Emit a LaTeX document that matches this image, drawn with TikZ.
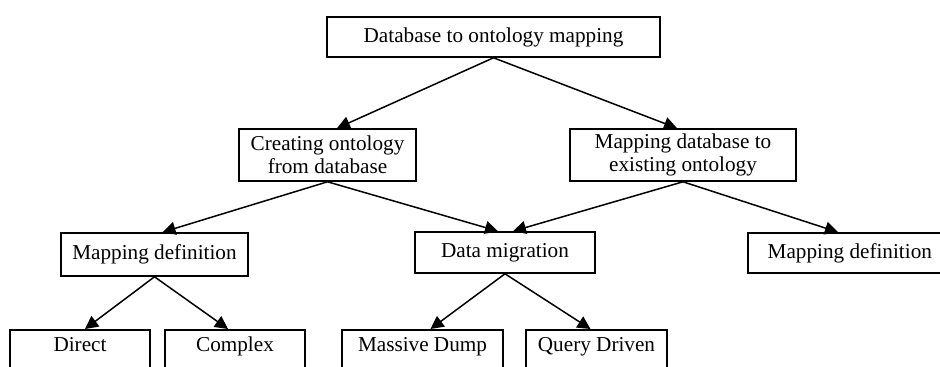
\documentclass[tikz,border=0pt]{standalone}
\usepackage{fontspec}
\setmainfont{Liberation Serif}
\usetikzlibrary{arrows.meta, positioning}

\begin{document}
\begin{tikzpicture}[
        x=0.5pt, y=-0.5pt,
        box/.style={draw, line width=0.8pt, inner sep=0pt, align=center,
            font=\fontsize{10.6pt}{11.5pt}\selectfont},
        leaf/.style={box, anchor=north, text height=11pt, text depth=16pt},
        rel/.style={-{Triangle[length=6.5pt, width=6.5pt]}, line width=0.75pt}
    ]
        \useasboundingbox (0,0) rectangle (940,367);

        \node[box, minimum width=166.5pt, minimum height=20pt] (root) at (493.5,37) {Database to ontology mapping};
        \node[box, minimum width=88.5pt, minimum height=26pt] (create) at (327.5,155) {Creating ontology\\from database};
        \node[box, minimum width=113pt, minimum height=26pt] (mapdb) at (683,155) {Mapping database to\\existing ontology};
        \node[box, minimum width=93.5pt, minimum height=21.5pt] (defleft) at (154.5,254.5) {Mapping definition};
        \node[box, minimum width=90pt, minimum height=20.5pt] (migr) at (505,252.5) {Data migration};
        \node[box, anchor=west, minimum width=102pt, minimum height=20pt] (defright) at (747,253) {Mapping definition};

        \node[leaf, minimum width=70pt] (direct) at (80,329) {Direct};
        \node[leaf, minimum width=70pt] (complex) at (235,329) {Complex};
        \node[leaf, minimum width=80.5pt] (dump) at (422.5,329) {Massive Dump};
        \node[leaf, minimum width=70.5pt] (query) at (596.5,329) {Query Driven};

        \draw[rel] (root.south) -- ([xshift=4.75pt]create.north);
        \draw[rel] (root.south) -- ([xshift=-3pt]mapdb.north);
        \draw[rel] (create.south) -- ([xshift=4pt]defleft.north);
        \draw[rel] (create.south) -- ([xshift=-3.5pt]migr.north);
        \draw[rel] (mapdb.south) -- ([xshift=4pt]migr.north);
        \draw[rel] (mapdb.south) -- ([xshift=45.5pt]defright.north west);
        \draw[rel] (defleft.south) -- ([xshift=2.5pt]direct.north);
        \draw[rel] (defleft.south) -- ([xshift=-3.5pt]complex.north);
        \draw[rel] (migr.south) -- ([xshift=4pt]dump.north);
        \draw[rel] (migr.south) -- ([xshift=-3pt]query.north);
    \end{tikzpicture}
\end{document}
